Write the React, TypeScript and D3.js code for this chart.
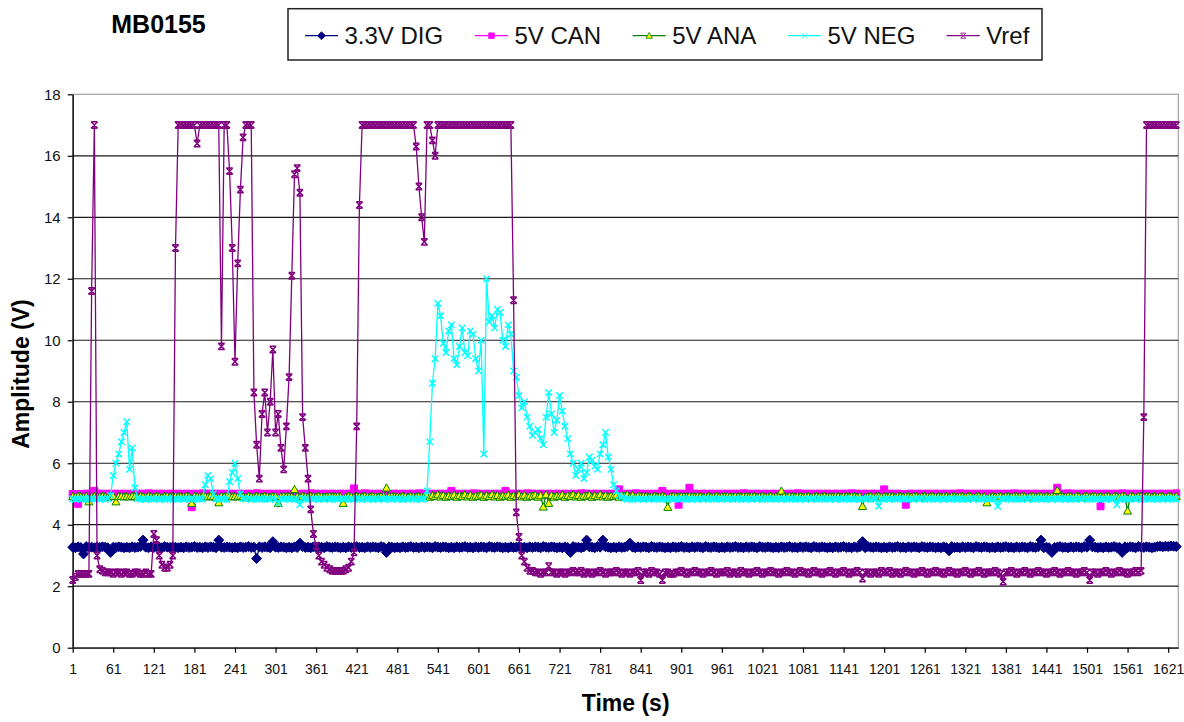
import React, { useEffect, useRef } from 'react'
import * as d3 from 'd3'

// one sample every 4 s, first sample at t = 1
const SAMPLE_STEP = 4
const LAST_SAMPLE = 1636

const timeTicks = [1, 61, 121, 181, 241, 301, 361, 421, 481, 541, 601, 661, 721, 781, 841, 901,
  961, 1021, 1081, 1141, 1201, 1261, 1321, 1381, 1441, 1501, 1561, 1621]
const ampTicks = [0, 2, 4, 6, 8, 10, 12, 14, 16, 18]

const dig33 = [
  3.27, 3.25, 3.28, 3.26, 3.05, 3.29, 3.26, 3.27, 3.25, 3.28,
  3.26, 3.28, 3.27, 3.25, 3.1, 3.27, 3.26, 3.28, 3.27, 3.25,
  3.27, 3.25, 3.28, 3.26, 3.27, 3.29, 3.5, 3.27, 3.25, 3.28,
  3.26, 3.28, 3.27, 3.25, 3.29, 3.27, 3.26, 3.28, 3.27, 3.25,
  3.27, 3.25, 3.28, 3.26, 3.27, 3.29, 3.26, 3.27, 3.25, 3.28,
  3.26, 3.28, 3.27, 3.25, 3.5, 3.27, 3.26, 3.28, 3.27, 3.25,
  3.27, 3.25, 3.28, 3.26, 3.27, 3.29, 3.26, 3.27, 2.9, 3.28,
  3.26, 3.28, 3.27, 3.25, 3.45, 3.27, 3.26, 3.28, 3.27, 3.25,
  3.27, 3.25, 3.28, 3.26, 3.4, 3.29, 3.26, 3.27, 3.25, 3.28,
  3.26, 3.28, 3.27, 3.25, 3.29, 3.27, 3.26, 3.28, 3.27, 3.25,
  3.27, 3.25, 3.28, 3.26, 3.27, 3.29, 3.26, 3.27, 3.25, 3.28,
  3.26, 3.28, 3.27, 3.25, 3.29, 3.27, 3.1, 3.28, 3.27, 3.25,
  3.27, 3.25, 3.28, 3.26, 3.27, 3.29, 3.26, 3.27, 3.25, 3.28,
  3.26, 3.28, 3.27, 3.25, 3.29, 3.27, 3.26, 3.28, 3.27, 3.25,
  3.27, 3.25, 3.28, 3.26, 3.27, 3.29, 3.26, 3.27, 3.25, 3.28,
  3.26, 3.28, 3.27, 3.25, 3.29, 3.27, 3.26, 3.28, 3.27, 3.25,
  3.27, 3.25, 3.28, 3.26, 3.27, 3.29, 3.26, 3.27, 3.25, 3.28,
  3.26, 3.28, 3.27, 3.25, 3.29, 3.27, 3.26, 3.28, 3.27, 3.25,
  3.27, 3.25, 3.28, 3.26, 3.1, 3.29, 3.26, 3.27, 3.25, 3.28,
  3.5, 3.28, 3.27, 3.25, 3.29, 3.27, 3.5, 3.28, 3.27, 3.25,
  3.27, 3.25, 3.28, 3.26, 3.27, 3.29, 3.4, 3.27, 3.25, 3.28,
  3.26, 3.28, 3.27, 3.25, 3.29, 3.27, 3.26, 3.28, 3.27, 3.25,
  3.27, 3.25, 3.28, 3.26, 3.27, 3.29, 3.26, 3.27, 3.25, 3.28,
  3.26, 3.28, 3.27, 3.25, 3.29, 3.27, 3.26, 3.28, 3.27, 3.25,
  3.27, 3.25, 3.28, 3.26, 3.27, 3.29, 3.26, 3.27, 3.25, 3.28,
  3.26, 3.28, 3.27, 3.25, 3.29, 3.27, 3.26, 3.28, 3.27, 3.25,
  3.27, 3.25, 3.28, 3.26, 3.27, 3.29, 3.26, 3.27, 3.25, 3.28,
  3.26, 3.28, 3.27, 3.25, 3.29, 3.27, 3.26, 3.28, 3.27, 3.25,
  3.27, 3.25, 3.28, 3.26, 3.27, 3.29, 3.26, 3.27, 3.25, 3.28,
  3.26, 3.28, 3.45, 3.25, 3.29, 3.27, 3.26, 3.28, 3.27, 3.25,
  3.27, 3.25, 3.28, 3.26, 3.27, 3.29, 3.26, 3.27, 3.25, 3.28,
  3.26, 3.28, 3.27, 3.25, 3.29, 3.27, 3.26, 3.28, 3.27, 3.25,
  3.27, 3.25, 3.28, 3.26, 3.15, 3.29, 3.26, 3.27, 3.25, 3.28,
  3.26, 3.28, 3.27, 3.25, 3.29, 3.27, 3.26, 3.28, 3.27, 3.25,
  3.27, 3.25, 3.28, 3.26, 3.27, 3.29, 3.26, 3.27, 3.25, 3.28,
  3.26, 3.28, 3.27, 3.25, 3.29, 3.27, 3.26, 3.28, 3.5, 3.25,
  3.27, 3.25, 3.1, 3.26, 3.27, 3.29, 3.26, 3.27, 3.25, 3.28,
  3.26, 3.28, 3.27, 3.25, 3.29, 3.27, 3.5, 3.28, 3.27, 3.25,
  3.27, 3.25, 3.28, 3.26, 3.27, 3.29, 3.26, 3.27, 3.1, 3.28,
  3.26, 3.28, 3.27, 3.25, 3.29, 3.27, 3.26, 3.28, 3.27, 3.25,
  3.27, 3.29, 3.3, 3.28, 3.3, 3.29, 3.31, 3.3, 3.29
]

const can5 = [
  5.0, 4.99, 4.68, 5.0, 4.98, 5.01, 5.0, 4.99, 5.1, 5.0,
  5.01, 5.0, 4.99, 5.01, 5.0, 4.98, 5.01, 5.0, 4.99, 5.01,
  5.0, 4.99, 5.01, 5.0, 4.98, 5.01, 5.0, 4.99, 5.02, 5.0,
  5.01, 5.0, 4.99, 5.01, 5.0, 4.98, 5.01, 5.0, 4.99, 5.01,
  5.0, 4.99, 5.01, 5.0, 4.57, 5.01, 5.0, 4.99, 5.02, 5.0,
  5.01, 5.0, 4.99, 5.01, 5.0, 4.98, 5.01, 5.0, 4.99, 5.01,
  5.0, 4.99, 5.01, 5.0, 4.98, 5.01, 5.0, 4.99, 5.02, 5.0,
  5.01, 5.0, 4.99, 5.01, 5.0, 4.98, 5.01, 5.0, 4.99, 5.01,
  5.0, 4.99, 5.01, 5.0, 4.98, 5.01, 5.0, 4.99, 5.02, 5.0,
  5.01, 5.0, 4.99, 5.01, 5.0, 4.98, 5.01, 5.0, 4.99, 5.01,
  5.0, 4.99, 5.01, 5.0, 5.18, 5.01, 5.0, 4.99, 5.02, 5.0,
  5.01, 5.0, 4.99, 5.01, 5.0, 4.98, 5.01, 5.0, 4.99, 5.01,
  5.0, 4.99, 5.01, 5.0, 4.98, 5.01, 5.0, 4.99, 5.02, 5.0,
  5.01, 5.0, 4.99, 5.01, 5.0, 4.98, 5.01, 5.0, 4.99, 5.01,
  5.1, 4.99, 5.01, 5.0, 4.98, 5.01, 5.0, 4.99, 5.02, 5.0,
  5.01, 5.0, 4.99, 5.01, 5.0, 4.98, 5.01, 5.0, 4.99, 5.01,
  5.1, 4.99, 5.01, 5.0, 4.98, 5.01, 5.0, 4.99, 5.02, 5.0,
  5.01, 5.0, 4.99, 5.01, 5.0, 4.98, 5.01, 5.0, 4.99, 5.01,
  5.0, 4.99, 5.01, 5.0, 4.98, 5.01, 5.0, 4.99, 5.02, 5.0,
  5.01, 5.0, 4.99, 5.01, 5.0, 4.98, 5.01, 5.0, 4.99, 5.01,
  5.0, 4.99, 5.15, 5.0, 4.98, 5.01, 5.0, 4.99, 5.02, 5.0,
  5.01, 5.0, 4.99, 5.01, 5.0, 4.98, 5.01, 5.0, 5.1, 5.01,
  5.0, 4.99, 5.01, 5.0, 4.65, 5.01, 5.0, 4.99, 5.2, 5.0,
  5.01, 5.0, 4.99, 5.01, 5.0, 4.98, 5.01, 5.0, 4.99, 5.01,
  5.0, 4.99, 5.01, 5.0, 4.98, 5.01, 5.0, 4.99, 5.02, 5.0,
  5.01, 5.0, 4.99, 5.01, 5.0, 4.98, 5.01, 5.0, 4.99, 5.01,
  5.0, 4.99, 5.01, 5.0, 4.98, 5.01, 5.0, 4.99, 5.02, 5.0,
  5.01, 5.0, 4.99, 5.01, 5.0, 4.98, 5.01, 5.0, 4.99, 5.01,
  5.0, 4.99, 5.01, 5.0, 4.98, 5.01, 5.0, 4.99, 5.02, 5.0,
  5.01, 5.0, 4.99, 5.01, 5.0, 4.98, 5.01, 5.0, 4.99, 5.01,
  5.15, 4.99, 5.01, 5.0, 4.98, 5.01, 5.0, 4.99, 4.65, 5.0,
  5.01, 5.0, 4.99, 5.01, 5.0, 4.98, 5.01, 5.0, 4.99, 5.01,
  5.0, 4.99, 5.01, 5.0, 4.98, 5.01, 5.0, 4.99, 5.02, 5.0,
  5.01, 5.0, 4.99, 5.01, 5.0, 4.98, 5.01, 5.0, 4.99, 5.01,
  5.0, 4.99, 5.01, 5.0, 4.98, 5.01, 5.0, 4.99, 5.02, 5.0,
  5.01, 5.0, 4.99, 5.01, 5.0, 4.98, 5.01, 5.0, 4.99, 5.01,
  5.0, 4.99, 5.01, 5.0, 5.2, 5.01, 5.0, 4.99, 5.02, 5.0,
  5.01, 5.0, 4.99, 5.01, 5.0, 4.98, 5.01, 5.0, 4.99, 5.01,
  4.6, 4.99, 5.01, 5.0, 4.98, 5.01, 5.0, 4.99, 5.02, 5.0,
  5.01, 5.0, 4.99, 5.01, 5.0, 4.98, 5.01, 5.0, 4.99, 5.01,
  5.0, 4.99, 5.01, 5.0, 4.98, 5.01, 5.0, 4.99, 5.02
]

const ana5 = [
  4.92, 4.91, 4.93, 4.92, 4.9, 4.93, 4.75, 4.91, 4.93, 4.92,
  4.91, 4.93, 4.92, 4.9, 4.92, 4.93, 4.75, 4.92, 4.93, 4.91,
  4.92, 4.91, 4.93, 4.92, 4.9, 4.93, 4.92, 4.91, 4.93, 4.92,
  4.91, 4.93, 4.92, 4.9, 4.92, 4.93, 4.91, 4.92, 4.93, 4.91,
  4.92, 4.91, 4.93, 4.92, 4.7, 4.93, 4.92, 4.91, 4.93, 4.92,
  4.91, 4.93, 4.92, 4.9, 4.72, 4.93, 4.91, 4.92, 4.93, 4.91,
  4.92, 4.91, 4.93, 4.92, 4.9, 4.93, 4.92, 4.91, 4.93, 4.92,
  4.91, 4.93, 4.92, 4.9, 4.92, 4.93, 4.7, 4.92, 4.93, 4.91,
  4.92, 4.91, 5.15, 4.92, 4.9, 4.93, 4.92, 4.91, 4.93, 4.92,
  4.91, 4.93, 4.92, 4.9, 4.92, 4.93, 4.91, 4.92, 4.93, 4.91,
  4.7, 4.91, 4.93, 4.92, 4.9, 4.93, 4.92, 4.91, 4.93, 4.92,
  4.91, 4.93, 4.92, 4.9, 4.92, 4.93, 5.2, 4.92, 4.93, 4.91,
  4.92, 4.91, 4.93, 4.92, 4.9, 4.93, 4.92, 4.91, 4.93, 4.92,
  4.93, 4.97, 4.9, 4.95, 4.92, 4.98, 4.91, 4.96, 4.9, 4.94,
  4.93, 4.97, 4.9, 4.95, 4.92, 4.98, 4.91, 4.96, 4.9, 4.94,
  4.93, 4.97, 4.9, 4.95, 4.92, 4.98, 4.91, 4.96, 4.9, 4.94,
  4.93, 4.97, 4.9, 4.95, 4.92, 4.98, 4.91, 4.96, 4.9, 4.94,
  4.93, 4.97, 4.9, 4.95, 4.58, 4.98, 4.7, 4.96, 4.9, 4.94,
  4.93, 4.97, 4.9, 4.95, 4.92, 4.98, 4.91, 4.96, 4.9, 4.94,
  4.93, 4.97, 4.9, 4.95, 4.92, 4.98, 4.91, 4.96, 4.9, 4.94,
  4.93, 4.97, 4.9, 4.95, 4.92, 4.98, 4.91, 4.96, 4.9, 4.94,
  4.91, 4.93, 4.92, 4.9, 4.92, 4.93, 4.91, 4.92, 4.93, 4.91,
  4.57, 4.91, 4.93, 4.92, 4.9, 4.93, 4.92, 4.91, 4.93, 4.92,
  4.91, 4.93, 4.92, 4.9, 4.92, 4.93, 4.91, 4.92, 4.93, 4.91,
  4.92, 4.91, 4.93, 4.92, 4.9, 4.93, 4.92, 4.91, 4.93, 4.92,
  4.91, 4.93, 4.92, 4.9, 4.92, 4.93, 4.91, 4.92, 4.93, 4.91,
  4.92, 4.91, 5.1, 4.92, 4.9, 4.93, 4.92, 4.91, 4.93, 4.92,
  4.91, 4.93, 4.92, 4.9, 4.92, 4.93, 4.91, 4.92, 4.93, 4.91,
  4.92, 4.91, 4.93, 4.92, 4.9, 4.93, 4.92, 4.91, 4.93, 4.92,
  4.91, 4.93, 4.6, 4.9, 4.92, 4.93, 4.91, 4.92, 4.93, 4.91,
  4.92, 4.91, 4.93, 4.92, 4.9, 4.93, 4.92, 4.91, 4.93, 4.92,
  4.91, 4.93, 4.92, 4.9, 4.92, 4.93, 4.91, 4.92, 4.93, 4.91,
  4.92, 4.91, 4.93, 4.92, 4.9, 4.93, 4.92, 4.91, 4.93, 4.92,
  4.91, 4.93, 4.92, 4.9, 4.92, 4.93, 4.91, 4.92, 4.72, 4.91,
  4.92, 4.91, 4.93, 4.92, 4.9, 4.93, 4.92, 4.91, 4.93, 4.92,
  4.91, 4.93, 4.92, 4.9, 4.92, 4.93, 4.91, 4.92, 4.93, 4.91,
  4.92, 4.91, 4.93, 4.92, 5.12, 4.93, 4.92, 4.91, 4.93, 4.92,
  4.91, 4.93, 4.92, 4.9, 4.92, 4.93, 4.91, 4.92, 4.93, 4.91,
  4.92, 4.91, 4.93, 4.92, 4.9, 4.93, 4.92, 4.91, 4.93, 4.92,
  4.45, 4.93, 4.92, 4.9, 4.92, 4.93, 4.91, 4.92, 4.93, 4.91,
  4.92, 4.91, 4.93, 4.92, 4.9, 4.93, 4.92, 4.91, 4.93
]

const neg5 = [
  4.84, 4.82, 4.85, 4.83, 4.86, 4.82, 4.84, 4.85, 4.83, 4.84,
  4.83, 4.85, 4.82, 4.85, 4.95, 5.6, 6.0, 6.3, 6.7, 7.0,
  7.35, 5.8, 6.5, 5.2, 4.85, 4.83, 4.84, 4.82, 4.85, 4.83,
  4.83, 4.85, 4.82, 4.84, 4.83, 4.86, 4.84, 4.82, 4.85, 4.83,
  4.84, 4.82, 4.85, 4.83, 4.86, 4.82, 4.84, 4.85, 4.83, 5.3,
  5.6, 5.5, 5.0, 4.84, 4.83, 4.86, 4.84, 4.82, 5.4, 5.7,
  6.0, 5.5, 5.0, 4.85, 4.83, 4.86, 4.82, 4.84, 4.83, 4.85,
  4.84, 4.82, 4.85, 4.83, 4.86, 4.82, 4.7, 4.85, 4.83, 4.84,
  4.83, 4.85, 4.82, 4.84, 4.65, 4.86, 4.84, 4.82, 4.85, 4.83,
  4.84, 4.82, 4.85, 4.83, 4.86, 4.82, 4.84, 4.85, 4.83, 4.84,
  4.83, 4.85, 4.82, 4.84, 4.83, 4.86, 4.84, 4.82, 4.85, 4.83,
  4.84, 4.82, 4.85, 4.83, 4.86, 4.82, 4.84, 4.85, 4.83, 4.84,
  4.83, 4.85, 4.82, 4.84, 4.83, 4.86, 4.84, 4.82, 4.85, 4.83,
  4.84, 5.1, 6.7, 8.6, 9.4, 11.2, 10.8, 9.9, 9.6, 10.3,
  10.5, 9.4, 9.2, 9.8, 10.4, 9.6, 9.5, 10.3, 10.2, 9.4,
  9.0, 10.0, 6.3, 12.0, 10.6, 10.8, 10.4, 11.0, 10.9, 10.0,
  9.8, 10.5, 10.2, 9.0, 8.8, 8.2, 7.8, 8.0, 7.5, 7.2,
  6.9, 7.0, 7.1, 6.8, 6.6, 7.5, 8.3, 7.6, 7.0, 7.4,
  8.2, 7.7, 7.2, 6.8, 6.3, 6.0, 5.6, 5.8, 6.0, 5.5,
  5.7, 6.2, 6.1, 5.9, 5.8, 6.3, 6.6, 7.0, 6.2, 5.8,
  5.3, 5.1, 4.95, 4.9, 4.85, 4.83, 4.84, 4.82, 4.85, 4.83,
  4.84, 4.82, 4.85, 4.83, 4.86, 4.82, 4.84, 4.85, 4.83, 4.84,
  4.83, 4.85, 4.82, 4.84, 4.83, 4.86, 4.84, 4.82, 4.85, 4.83,
  4.84, 4.82, 4.85, 4.83, 4.86, 4.82, 4.84, 4.85, 4.83, 4.84,
  4.83, 4.85, 4.82, 4.84, 4.83, 4.86, 4.84, 4.82, 4.85, 4.83,
  4.84, 4.82, 4.85, 4.83, 4.86, 4.82, 4.84, 4.85, 4.83, 4.84,
  4.83, 4.85, 4.82, 4.84, 4.83, 4.86, 4.84, 4.82, 4.85, 4.83,
  4.84, 4.82, 4.85, 4.83, 4.86, 4.82, 4.84, 4.85, 4.83, 4.84,
  4.83, 4.85, 4.82, 4.84, 4.83, 4.86, 4.84, 4.82, 4.85, 4.83,
  4.84, 4.82, 4.85, 4.83, 4.86, 4.82, 4.84, 4.85, 4.6, 4.84,
  4.83, 4.85, 4.82, 4.84, 4.83, 4.86, 4.84, 4.82, 4.85, 4.83,
  4.84, 4.82, 4.85, 4.83, 4.86, 4.82, 4.84, 4.85, 4.83, 4.84,
  4.83, 4.85, 4.82, 4.84, 4.83, 4.86, 4.84, 4.82, 4.85, 4.83,
  4.84, 4.82, 4.85, 4.83, 4.86, 4.82, 4.84, 4.85, 4.83, 4.84,
  4.83, 4.85, 4.6, 4.84, 4.83, 4.86, 4.84, 4.82, 4.85, 4.83,
  4.84, 4.82, 4.85, 4.83, 4.86, 4.82, 4.84, 4.85, 4.83, 4.84,
  4.83, 4.85, 4.82, 4.84, 4.83, 4.86, 4.84, 4.82, 4.85, 4.83,
  4.84, 4.82, 4.85, 4.83, 4.86, 4.82, 4.84, 4.85, 4.83, 4.84,
  4.83, 4.85, 4.82, 4.84, 4.83, 4.86, 4.65, 4.82, 4.85, 4.83,
  4.84, 4.82, 4.85, 4.83, 4.86, 4.82, 4.84, 4.85, 4.83, 4.84,
  4.84, 4.82, 4.85, 4.83, 4.86, 4.82, 4.84, 4.85, 4.83
]

const vref = [
  2.2, 2.3, 2.4, 2.4, 2.4, 2.4, 2.4, 11.6, 17, 3.0,
  2.55, 2.5, 2.45, 2.45, 2.45, 2.4, 2.45, 2.45, 2.4, 2.45,
  2.45, 2.4, 2.4, 2.45, 2.45, 2.4, 2.4, 2.45, 2.4, 2.4,
  3.7, 3.5, 3.0, 2.7, 2.6, 2.6, 2.7, 3.0, 13.0, 17,
  17, 17, 17, 17, 17, 17, 16.4, 17, 17, 17,
  17, 17, 17, 17, 17, 9.8, 17, 17, 15.5, 13.0,
  9.3, 12.5, 14.9, 16.6, 17, 17, 17, 8.3, 6.6, 5.5,
  7.6, 8.3, 7.0, 8.0, 9.7, 7.0, 7.6, 6.5, 5.8, 7.2,
  8.8, 12.1, 15.4, 15.6, 14.8, 7.5, 6.5, 5.5, 4.5, 3.7,
  3.3, 3.0, 2.8, 2.7, 2.6, 2.55, 2.5, 2.5, 2.5, 2.5,
  2.5, 2.55, 2.6, 2.8, 3.1, 7.2, 14.4, 17, 17, 17,
  17, 17, 17, 17, 17, 17, 17, 17, 17, 17,
  17, 17, 17, 17, 17, 17, 17, 16.3, 15.0, 14.0,
  13.2, 17, 17, 16.5, 16.0, 17, 17, 17, 17, 17,
  17, 17, 17, 17, 17, 17, 17, 17, 17, 17,
  17, 17, 17, 17, 17, 17, 17, 17, 17, 17,
  17, 17, 17, 11.3, 4.4, 3.6, 3.0, 2.8, 2.6, 2.5,
  2.5, 2.45, 2.45, 2.4, 2.45, 2.45, 2.65, 2.45, 2.45, 2.4,
  2.45, 2.45, 2.4, 2.45, 2.45, 2.5, 2.45, 2.45, 2.5, 2.4,
  2.45, 2.45, 2.4, 2.45, 2.45, 2.5, 2.45, 2.4, 2.45, 2.45,
  2.45, 2.5, 2.45, 2.4, 2.45, 2.45, 2.4, 2.45, 2.45, 2.5,
  2.2, 2.45, 2.45, 2.4, 2.5, 2.45, 2.45, 2.4, 2.2, 2.45,
  2.45, 2.4, 2.4, 2.45, 2.45, 2.5, 2.45, 2.4, 2.45, 2.45,
  2.5, 2.45, 2.45, 2.4, 2.45, 2.45, 2.5, 2.45, 2.4, 2.45,
  2.45, 2.45, 2.5, 2.4, 2.45, 2.45, 2.4, 2.5, 2.45, 2.45,
  2.4, 2.45, 2.45, 2.5, 2.45, 2.4, 2.45, 2.45, 2.5, 2.45,
  2.45, 2.4, 2.45, 2.45, 2.5, 2.45, 2.45, 2.4, 2.45, 2.5,
  2.45, 2.45, 2.4, 2.45, 2.5, 2.45, 2.45, 2.4, 2.45, 2.45,
  2.5, 2.45, 2.4, 2.45, 2.45, 2.5, 2.45, 2.4, 2.45, 2.45,
  2.5, 2.45, 2.25, 2.45, 2.45, 2.4, 2.45, 2.45, 2.4, 2.5,
  2.45, 2.45, 2.5, 2.4, 2.45, 2.45, 2.4, 2.45, 2.5, 2.45,
  2.45, 2.4, 2.45, 2.45, 2.5, 2.45, 2.4, 2.45, 2.45, 2.5,
  2.45, 2.45, 2.4, 2.45, 2.5, 2.45, 2.45, 2.4, 2.45, 2.45,
  2.5, 2.45, 2.4, 2.45, 2.45, 2.5, 2.45, 2.4, 2.45, 2.45,
  2.45, 2.5, 2.45, 2.4, 2.15, 2.45, 2.45, 2.5, 2.45, 2.4,
  2.45, 2.45, 2.5, 2.45, 2.4, 2.45, 2.45, 2.5, 2.45, 2.45,
  2.4, 2.45, 2.45, 2.5, 2.45, 2.4, 2.45, 2.45, 2.5, 2.45,
  2.45, 2.4, 2.45, 2.45, 2.5, 2.45, 2.2, 2.45, 2.45, 2.4,
  2.45, 2.45, 2.5, 2.45, 2.4, 2.45, 2.45, 2.5, 2.45, 2.45,
  2.4, 2.45, 2.45, 2.5, 2.45, 2.5, 7.5, 17, 17, 17,
  17, 17, 17, 17, 17, 17, 17, 17, 17
]

const FONT = '"Liberation Sans", Arial, Helvetica, sans-serif'
const W = 1184, H = 722
const PLOT_L = 72.7, PLOT_R = 1178.3, PLOT_T = 94.3, PLOT_B = 647.7

// marker shapes, Excel style
const DIAMOND = 'M0,-5L5,0L0,5L-5,0Z'
const SQUARE = 'M-3.5,-3.5H3.5V3.5H-3.5Z'
const TRIANGLE = 'M0,-4L4,3.2L-4,3.2Z'
const CROSS = 'M-3.2,-3.2L3.2,3.2M-3.2,3.2L3.2,-3.2'
const STAR = 'M-3.2,-3.2L3.2,3.2M-3.2,3.2L3.2,-3.2M-3.2,-3.2H3.2M-3.2,3.2H3.2'

const series = [
  { name: '3.3V DIG', values: dig33, line: '#000080', marker: DIAMOND, fill: '#000080', stroke: '#000080', mw: 1 },
  { name: '5V CAN', values: can5, line: '#ff00ff', marker: SQUARE, fill: '#ff00ff', stroke: '#ff00ff', mw: 1 },
  { name: '5V ANA', values: ana5, line: '#008000', marker: TRIANGLE, fill: '#ffff00', stroke: '#008000', mw: 1 },
  { name: '5V NEG', values: neg5, line: '#00ffff', marker: CROSS, fill: 'none', stroke: '#00ffff', mw: 1.5 },
  { name: 'Vref', values: vref, line: '#800080', marker: STAR, fill: 'none', stroke: '#800080', mw: 1.5 }
]
const legendX = [305, 475, 632.7, 788, 946.7]

export default function App() {
  const ref = useRef<SVGSVGElement>(null)

  useEffect(() => {
    const svg = d3.select(ref.current)
    svg.selectAll('*').remove()

    const x = d3.scaleLinear().domain([1, LAST_SAMPLE]).range([PLOT_L, PLOT_R])
    const y = d3.scaleLinear().domain([0, 18]).range([PLOT_B, PLOT_T])

    svg.append('rect').attr('width', W).attr('height', H).attr('fill', '#fff')

    // plot frame + gridlines
    svg.append('rect')
      .attr('x', PLOT_L).attr('y', PLOT_T)
      .attr('width', PLOT_R - PLOT_L).attr('height', PLOT_B - PLOT_T)
      .attr('fill', '#fff').attr('stroke', '#a0a0a0').attr('stroke-width', 1.2)

    svg.append('g').selectAll('line')
      .data(ampTicks.filter(d => d > 0 && d < 18))
      .enter().append('line')
      .attr('x1', PLOT_L).attr('x2', PLOT_R)
      .attr('y1', d => y(d)).attr('y2', d => y(d))
      .attr('stroke', '#1a1a1a').attr('stroke-width', 1.2)

    // axes
    const yAxis = svg.append('g')
      .attr('transform', `translate(${PLOT_L},0)`)
      .call(d3.axisLeft(y).tickValues(ampTicks).tickSize(5).tickSizeOuter(0).tickPadding(7))
    const xAxis = svg.append('g')
      .attr('transform', `translate(0,${PLOT_B})`)
      .call(d3.axisBottom(x).tickValues(timeTicks).tickSize(5).tickSizeOuter(0).tickPadding(11)
        .tickFormat(d => String(d)))
    for (const g of [yAxis, xAxis]) {
      g.select('.domain').attr('stroke', '#000').attr('stroke-width', 1.3)
      g.selectAll('.tick line').attr('stroke', '#000').attr('stroke-width', 1.2)
      g.selectAll('.tick text').attr('fill', '#111').attr('font-family', FONT)
    }
    yAxis.selectAll('.tick text').attr('font-size', 15)
    xAxis.selectAll('.tick text').attr('font-size', 14)

    // series, drawn in legend order so Vref ends up on top
    const times = vref.map((_, i) => 1 + i * SAMPLE_STEP)
    series.forEach(s => {
      const pts: [number, number][] = s.values.map((v, i) => [times[i], v])
      const line = d3.line<[number, number]>().x(d => x(d[0])).y(d => y(d[1]))
      const g = svg.append('g')
      g.append('path').attr('d', line(pts))
        .attr('fill', 'none').attr('stroke', s.line).attr('stroke-width', 1.3)
      g.selectAll('path.m').data(pts).enter().append('path')
        .attr('class', 'm')
        .attr('d', s.marker)
        .attr('transform', d => `translate(${x(d[0])},${y(d[1])})`)
        .attr('fill', s.fill).attr('stroke', s.stroke).attr('stroke-width', s.mw)
    })

    // title
    svg.append('text').attr('x', 158.5).attr('y', 33).attr('text-anchor', 'middle')
      .attr('font-family', FONT).attr('font-weight', 'bold').attr('font-size', 25)
      .text('MB0155')

    // axis titles
    svg.append('text').attr('x', 625.7).attr('y', 711).attr('text-anchor', 'middle')
      .attr('font-family', FONT).attr('font-weight', 'bold').attr('font-size', 23)
      .text('Time (s)')
    svg.append('text').attr('transform', 'translate(29,374) rotate(-90)').attr('text-anchor', 'middle')
      .attr('font-family', FONT).attr('font-weight', 'bold').attr('font-size', 23)
      .text('Amplitude (V)')

    // legend
    svg.append('rect').attr('x', 288).attr('y', 8.7).attr('width', 754).attr('height', 51.3)
      .attr('fill', '#fff').attr('stroke', '#222').attr('stroke-width', 1.5)
    series.forEach((s, i) => {
      const lx = legendX[i]
      const g = svg.append('g')
      g.append('line').attr('x1', lx).attr('x2', lx + 33).attr('y1', 35.7).attr('y2', 35.7)
        .attr('stroke', s.line).attr('stroke-width', 1.2)
      g.append('path').attr('d', s.marker).attr('transform', `translate(${lx + 16.5},35.7) scale(0.8)`)
        .attr('fill', s.fill).attr('stroke', s.stroke).attr('stroke-width', 1)
      g.append('text').attr('x', lx + 39.5).attr('y', 43.5)
        .attr('font-family', FONT).attr('font-size', 24).attr('fill', '#111')
        .text(s.name)
    })
  }, [])

  return (
    <svg ref={ref} width={W} height={H}
      style={{ position: 'absolute', left: 0, top: 0, display: 'block' }} />
  )
}
